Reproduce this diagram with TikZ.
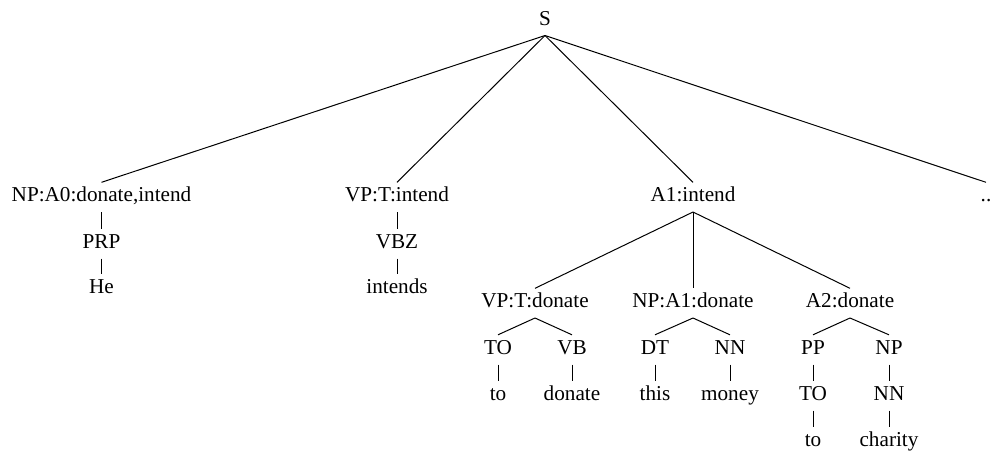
\documentclass[tikz,border=0pt]{standalone}
\usepackage{fontspec}
\setmainfont{Liberation Serif}
\begin{document}
\begin{tikzpicture}[x=0.5pt,y=-0.5pt,line width=0.5pt,
      lbl/.style={anchor=base,inner xsep=0pt,inner ysep=2.25pt,
        text height=7.1pt,text depth=2.75pt,font=\fontsize{10.6}{13}\selectfont}]
      \useasboundingbox (0,0) rectangle (992,451);
      % labels
      \foreach \n/\x/\y/\t in {s/545/25/S,
          np0/101.5/201.5/{NP:A0:donate,intend},prp/101.5/248/PRP,he/101.5/293.5/He,
          vpint/397/201.5/VP:T:intend,vbz/397/248/VBZ,intends/397/293.5/intends,
          a1/693/201.5/A1:intend,dots/986/201.5/..,
          vpdon/535/307.5/VP:T:donate,to/498/354/TO,vb/572/354/VB,
          wto/498/400/to,wdonate/572/400/donate,
          npdon/693/307.5/NP:A1:donate,dt/655/354/DT,nn/730/354/NN,
          this/655/400/this,money/730/400/money,
          atwo/850/307.5/A2:donate,pp/813/354/PP,np/889/354/NP,
          tob/813/400/TO,nnb/889/400/NN,wtob/813/446.5/to,charity/889/446.5/charity} {
        \node[lbl] (\n) at (\x,\y) {\t};
      }
      % branches
      \foreach \a/\b in {s/np0,s/vpint,s/a1,s/dots,
          np0/prp,prp/he,vpint/vbz,vbz/intends,
          a1/vpdon,a1/npdon,a1/atwo,
          vpdon/to,vpdon/vb,to/wto,vb/wdonate,
          npdon/dt,npdon/nn,dt/this,nn/money,
          atwo/pp,atwo/np,pp/tob,np/nnb,tob/wtob,nnb/charity} {
        \draw (\a.south) -- (\b.north);
      }
\end{tikzpicture}
\end{document}
